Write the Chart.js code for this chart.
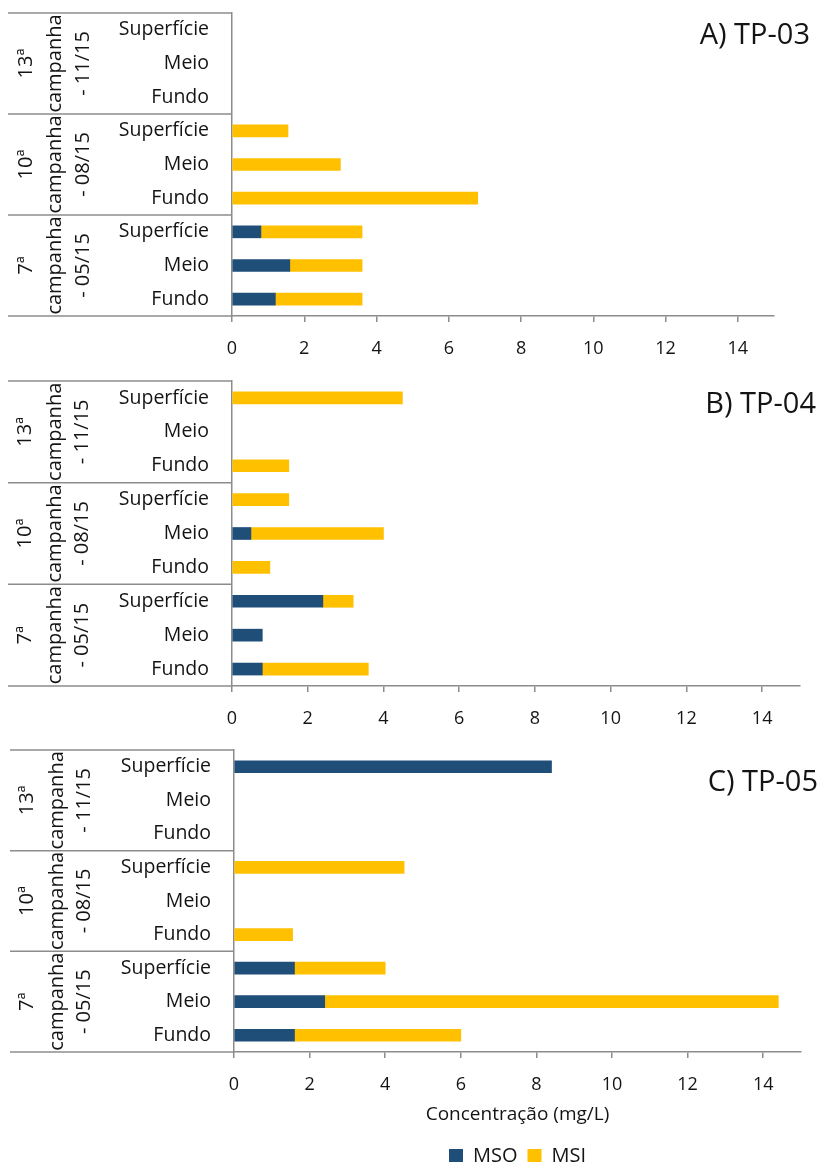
<!DOCTYPE html>
<html>
<head>
<meta charset="utf-8">
<script src="https://cdn.jsdelivr.net/npm/chart.js@4.4.1/dist/chart.umd.min.js"></script>
<style>
  html, body { margin: 0; padding: 0; background: #fff; overflow: hidden; }
  #page { position: relative; width: 823px; height: 1162px; overflow: hidden; }
  .panel { position: absolute; left: 0; }
</style>
</head>
<body>
<div id="page">
  <div class="panel" style="top:0px"><canvas id="tp03" width="823" height="360"></canvas></div>
  <div class="panel" style="top:370px"><canvas id="tp04" width="823" height="360"></canvas></div>
  <div class="panel" style="top:740px"><canvas id="tp05" width="823" height="440"></canvas></div>
</div>
<script>
// Sampling depths, listed top to bottom within each campaign
const categories = ['Superfície', 'Meio', 'Fundo', 'Superfície', 'Meio', 'Fundo', 'Superfície', 'Meio', 'Fundo'];
// Campaign group labels (one entry per line of the rotated label)
const campaigns = [
  ['13ª', 'campanha', '- 11/15'],
  ['10ª', 'campanha', '- 08/15'],
  ['7ª', 'campanha', '- 05/15']
];
const tickValues = [0, 2, 4, 6, 8, 10, 12, 14];
const seriesNames = ['MSO', 'MSI'];

// Concentrations (mg/L) per station
const tp03_mso = [null, null, null, null, null, null, 0.8, 1.6, 1.2];
const tp03_msi = [null, null, null, 1.55, 3.0, 6.8, 2.8, 2.0, 2.4];
const tp04_mso = [null, null, null, null, 0.5, null, 2.4, 0.8, 0.8];
const tp04_msi = [4.5, null, 1.5, 1.5, 3.5, 1.0, 0.8, null, 2.8];
const tp05_mso = [8.4, null, null, null, null, null, 1.6, 2.4, 1.6];
const tp05_msi = [null, null, null, 4.5, null, 1.55, 2.4, 12.0, 4.4];

const BLUE = '#1F4E79';
const YELLOW = '#FFC000';
const TEXT = '#141414';
const LINE = '#8c8c8c';
const FONT = "'Open Sans', sans-serif";

// Draws the campaign grouping (separator lines + rotated labels) and the panel title
const groupPlugin = {
  id: 'campaignGroups',
  afterDraw(chart, args, opts) {
    const ctx = chart.ctx;
    const area = chart.chartArea;
    const y = chart.scales.y;
    const left = opts.leftEdge;
    ctx.save();
    ctx.strokeStyle = LINE;
    ctx.lineWidth = 1.5;
    const bounds = [area.top];
    for (let g = 1; g < campaigns.length; g++) {
      const i = g * 3;
      bounds.push((y.getPixelForValue(i - 1) + y.getPixelForValue(i)) / 2);
    }
    bounds.push(area.bottom);
    bounds.forEach(b => {
      ctx.beginPath();
      ctx.moveTo(left, b);
      ctx.lineTo(area.left, b);
      ctx.stroke();
    });
    // rotated campaign labels
    ctx.fillStyle = TEXT;
    ctx.font = '20px ' + FONT;
    ctx.textAlign = 'center';
    ctx.textBaseline = 'middle';
    campaigns.forEach((lines, g) => {
      const cy = (bounds[g] + bounds[g + 1]) / 2;
      lines.forEach((txt, k) => {
        ctx.save();
        ctx.translate(opts.lineX[k], cy);
        ctx.rotate(-Math.PI / 2);
        ctx.fillText(txt, 0, 0);
        ctx.restore();
      });
    });
    // panel title
    ctx.font = '29px ' + FONT;
    ctx.textAlign = 'right';
    ctx.fillText(opts.title, opts.titleX, opts.titleY);
    ctx.restore();
  }
};

function makeChart(id, mso, msi, cfg) {
  const isLast = !!cfg.last;
  return new Chart(document.getElementById(id), {
    type: 'bar',
    data: {
      labels: categories,
      datasets: [
        { label: seriesNames[0], data: mso, backgroundColor: BLUE, barThickness: 12 },
        { label: seriesNames[1], data: msi, backgroundColor: YELLOW, barThickness: 12 }
      ]
    },
    options: {
      indexAxis: 'y',
      responsive: false,
      animation: false,
      devicePixelRatio: 1,
      layout: { padding: { left: 0, right: cfg.right, top: cfg.top, bottom: cfg.bottom } },
      scales: {
        x: {
          stacked: true,
          min: 0,
          max: 15,
          afterBuildTicks: s => { s.ticks = tickValues.map(v => ({ value: v })); },
          afterFit: s => { s.height = cfg.xHeight; s.paddingLeft = 0; s.paddingRight = 0; },
          grid: { drawOnChartArea: false, drawTicks: true, tickLength: 6, color: LINE, lineWidth: 1.5 },
          border: { display: true, color: LINE, width: 1.5 },
          ticks: { color: TEXT, font: { family: FONT, size: 18 }, padding: 16, maxRotation: 0 },
          title: isLast ? {
            display: true,
            text: 'Concentração (mg/L)',
            color: TEXT,
            font: { family: FONT, size: 19 },
            padding: { top: 0, bottom: cfg.titlePad }
          } : { display: false }
        },
        y: {
          stacked: true,
          afterFit: s => { s.width = cfg.yWidth; s.paddingTop = 0; s.paddingBottom = 0; },
          grid: { display: false, drawTicks: false },
          border: { display: true, color: LINE, width: 1.5 },
          ticks: { color: TEXT, font: { family: FONT, size: 19.5 }, padding: 23, autoSkip: false }
        }
      },
      plugins: {
        legend: isLast ? {
          display: true,
          position: 'bottom',
          fullSize: false,
          labels: {
            color: TEXT,
            font: { family: FONT, size: 20 },
            boxWidth: 14,
            boxHeight: 14,
            padding: 10
          }
        } : { display: false },
        tooltip: { enabled: false },
        campaignGroups: cfg.groups
      }
    },
    plugins: [groupPlugin]
  });
}

makeChart('tp03', tp03_mso, tp03_msi, {
  right: 49, top: 13, bottom: 0, xHeight: 44, yWidth: 232,
  groups: { leftEdge: 8, lineX: [26, 55, 83], title: 'A) TP-03', titleX: 810, titleY: 36 }
});
makeChart('tp04', tp04_mso, tp04_msi, {
  right: 23, top: 11, bottom: 0, xHeight: 44, yWidth: 232,
  groups: { leftEdge: 8, lineX: [25, 55, 82], title: 'B) TP-04', titleX: 816, titleY: 35 }
});
makeChart('tp05', tp05_mso, tp05_msi, {
  last: true, right: 22, top: 10, bottom: 4, xHeight: 84, yWidth: 234, titlePad: 10,
  groups: { leftEdge: 10, lineX: [27, 57, 84], title: 'C) TP-05', titleX: 818, titleY: 43 }
});
</script>
</body>
</html>
